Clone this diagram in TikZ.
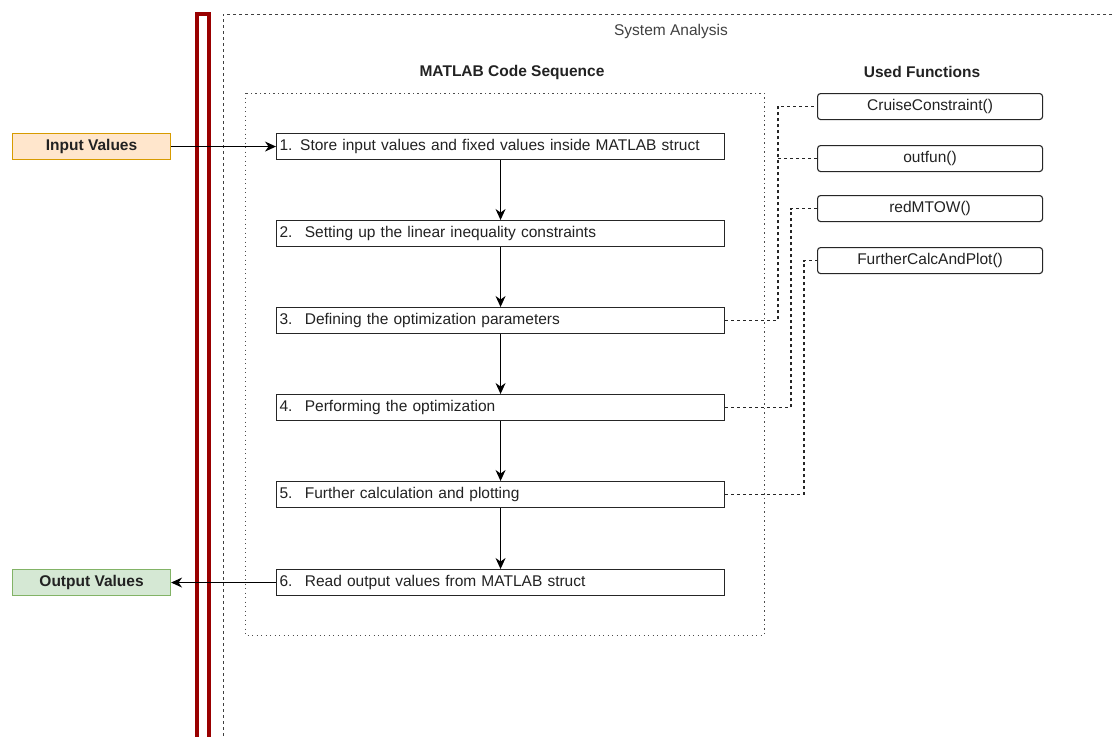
\documentclass[tikz,border=0pt]{standalone}
\usepackage{fontspec}
\setmainfont{Liberation Sans}
\usetikzlibrary{arrows.meta}
\definecolor{txt}{HTML}{222222}
\definecolor{inFill}{HTML}{FFE6CC}
\definecolor{inLine}{HTML}{D79B00}
\definecolor{outFill}{HTML}{D5E8D4}
\definecolor{outLine}{HTML}{82B366}
\definecolor{barRed}{HTML}{990000}
\newcommand{\stepgap}{\hspace{0.3em} }
\tikzset{
  basefont/.style={font=\fontsize{15.5}{18}\selectfont, text=txt},
  stepbox/.style={basefont, draw=black!85, line width=1.1pt, fill=white,
    minimum width=448, minimum height=26, text width=442, align=left,
    inner sep=3, anchor=north west},
  funbox/.style={basefont, draw=black!85, line width=1.1pt, fill=white,
    rounded corners=3, minimum width=225, minimum height=26, inner sep=2,
    anchor=north west},
  iobox/.style={font=\bfseries\fontsize{15.5}{18}\selectfont, text=txt,
    line width=1.1pt, minimum width=158, minimum height=26, inner sep=2,
    anchor=north west},
  flow/.style={line width=1.1pt, draw=black, -{Stealth[length=11pt,width=10pt]}},
  fdash/.style={line width=1.1pt, draw=black!85, dash pattern=on 3pt off 3pt},
  heading/.style={font=\bfseries\fontsize{15.5}{18}\selectfont, text=txt},
}
\begin{document}
\begin{tikzpicture}[x=1pt, y=-1pt]
  \useasboundingbox (0,0) rectangle (1115,736);

  % outer system container and inner code-sequence container
  \draw[black!75, line width=1pt, dash pattern=on 3pt off 3pt]
    (1118,14) -- (223,14) -- (223,740);
  \node[basefont, text=black!75] (sysl) at (671,31) {System Analysis};
  \draw[black!70, line width=1pt, dash pattern=on 1.2pt off 3.3pt]
    (245,93) rectangle (764,635);

  % boundary bar
  \draw[barRed, line width=4pt] (197,745) -- (197,14) -- (209,14) -- (209,745);

  % headings
  \node[heading] (hseq) at (512,72) {MATLAB Code Sequence};
  \node[heading] (hfun) at (922,72) {Used Functions};

  % code steps
  \node[stepbox] (s1) at (276,133) {1. Store input values and fixed values inside MATLAB struct};
  \node[stepbox] (s2) at (276,220) {2.\stepgap Setting up the linear inequality constraints};
  \node[stepbox] (s3) at (276,307) {3.\stepgap Defining the optimization parameters};
  \node[stepbox] (s4) at (276,394) {4.\stepgap Performing the optimization};
  \node[stepbox] (s5) at (276,481) {5.\stepgap Further calculation and plotting};
  \node[stepbox] (s6) at (276,569) {6.\stepgap Read output values from MATLAB struct};

  % used functions
  \node[funbox] (f1) at (817,93) {CruiseConstraint()};
  \node[funbox] (f2) at (817,145) {outfun()};
  \node[funbox] (f3) at (817,195) {redMTOW()};
  \node[funbox] (f4) at (817,247) {FurtherCalcAndPlot()};

  % inputs and outputs
  \node[iobox, draw=inLine, fill=inFill] (in) at (12,133) {Input Values};
  \node[iobox, draw=outLine, fill=outFill] (out) at (12,569) {Output Values};

  % sequence flow
  \draw[flow] (in.east) -- (s1.west);
  \draw[flow] (s1.south) -- (s2.north);
  \draw[flow] (s2.south) -- (s3.north);
  \draw[flow] (s3.south) -- (s4.north);
  \draw[flow] (s4.south) -- (s5.north);
  \draw[flow] (s5.south) -- (s6.north);
  \draw[flow] (s6.west) -- (out.east);

  % function references
  \coordinate (j3) at (778,0);
  \coordinate (j4) at (791,0);
  \coordinate (j5) at (804,0);
  \draw[fdash] (s3.east) -- (s3.east -| j3) |- (f1.west);
  \draw[fdash] (f2.west) -- (f2.west -| j3);
  \draw[fdash] (s4.east) -- (s4.east -| j4) |- (f3.west);
  \draw[fdash] (s5.east) -- (s5.east -| j5) |- (f4.west);
\end{tikzpicture}
\end{document}
